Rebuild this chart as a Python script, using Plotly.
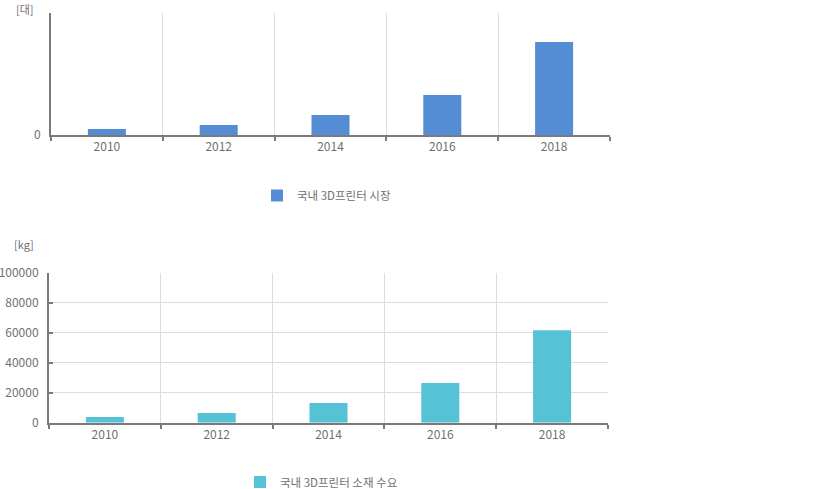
import plotly.graph_objects as go

years = ["2010", "2012", "2014", "2016", "2018"]
printer_market = [600, 1000, 2000, 4000, 9300]          # [대] (no scale shown)
material_demand = [3800, 6500, 13100, 26500, 61800]     # [kg]
series1_name = "국내 3D프린터 시장"
series2_name = "국내 3D프린터 소재 수요"
y2_ticks = [0, 20000, 40000, 60000, 80000, 100000]

W, H = 828, 489
FONT = "Noto Sans CJK KR"
AX = "#7a7a7a"
GRID = "#dcdcdc"
TXT = "#707070"

def px(x):
    return x / W

def py(y):
    return 1 - y / H

fig = go.Figure()
fig.add_trace(go.Bar(x=years, y=printer_market, name=series1_name, showlegend=True,
                     marker=dict(color="#548DD4", line=dict(width=0)),
                     xaxis="x", yaxis="y", legend="legend"))
fig.add_trace(go.Bar(x=years, y=material_demand, name=series2_name, showlegend=True,
                     marker=dict(color="#55C2D6", line=dict(width=0)),
                     xaxis="x2", yaxis="y2", legend="legend2"))

xcommon = dict(type="category", tickson="boundaries", ticks="outside", ticklen=4,
               tickcolor=AX, tickwidth=2, showline=True, linecolor=AX, linewidth=2,
               showgrid=True, gridcolor=GRID, gridwidth=1, zeroline=False,
               tickfont=dict(family=FONT, size=12, color=TXT), fixedrange=True)

fig.update_layout(
    width=W, height=H,
    margin=dict(l=0, r=0, t=0, b=0, autoexpand=False),
    paper_bgcolor="white", plot_bgcolor="white",
    showlegend=True,
    bargap=0.66,
    font=dict(family=FONT, color=TXT),
    xaxis=dict(domain=[px(51), px(610)], anchor="y", **xcommon),
    yaxis=dict(domain=[py(135), py(13)], anchor="x", range=[0, 12200],
               tickvals=[0], ticktext=["0"], ticks="", showgrid=False,
               showline=True, linecolor=AX, linewidth=2, zeroline=False,
               tickfont=dict(family=FONT, size=12, color=TXT), ticklabelstandoff=6),
    xaxis2=dict(domain=[px(49), px(608)], anchor="y2", **xcommon),
    yaxis2=dict(domain=[py(422.7), py(273)], anchor="x2", range=[0, 100000],
                tickvals=y2_ticks, tickformat="d", ticks="inside", ticklen=4,
                tickcolor=AX, tickwidth=2,
                showgrid=True, gridcolor=GRID, gridwidth=1,
                showline=True, linecolor=AX, linewidth=2, zeroline=False,
                tickfont=dict(family=FONT, size=12, color=TXT), ticklabelstandoff=6),
    legend=dict(x=px(257), y=py(195.5), xanchor="left", yanchor="middle",
                orientation="h", bgcolor="rgba(0,0,0,0)", visible=True,
                font=dict(family=FONT, size=11.5, color=TXT)),
    legend2=dict(x=px(240), y=py(482), xanchor="left", yanchor="middle",
                 orientation="h", bgcolor="rgba(0,0,0,0)", visible=True,
                 font=dict(family=FONT, size=11.5, color=TXT)),
    annotations=[
        dict(text="[대]", x=px(24.5), y=1, xref="paper", yref="paper",
             xanchor="center", yanchor="top", borderpad=0,
             showarrow=False, font=dict(family=FONT, size=11, color=TXT)),
        dict(text="[kg]", x=px(24), y=py(244), xref="paper", yref="paper",
             xanchor="center", yanchor="middle",
             showarrow=False, font=dict(family=FONT, size=11, color=TXT)),
    ],
)

fig.write_html("out.html")
